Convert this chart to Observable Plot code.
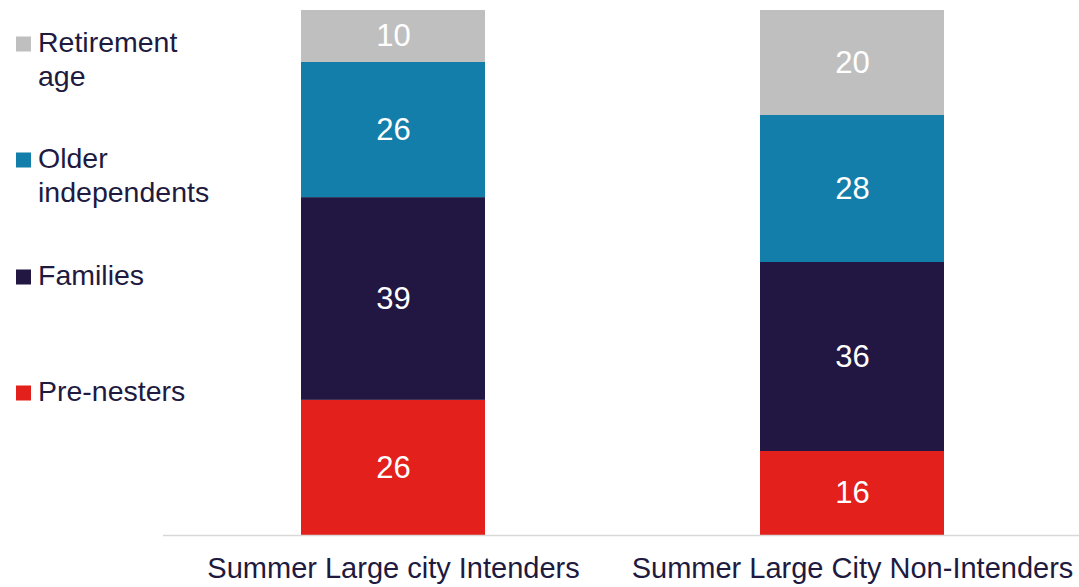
<!DOCTYPE html>
<html>
<head>
<meta charset="utf-8">
<script src="https://cdn.jsdelivr.net/npm/d3@7"></script>
<script src="https://cdn.jsdelivr.net/npm/@observablehq/plot@0.6"></script>
<style>
  html, body { margin: 0; padding: 0; background: #fff; }
  #chart { width: 1079px; height: 587px; overflow: hidden; }
</style>
</head>
<body>
<div id="chart"></div>
<script>
// ---- Data ----
const categories = ["Summer Large city Intenders", "Summer Large City Non-Intenders"];
const segments = ["Pre-nesters", "Families", "Older independents", "Retirement age"];
const preNesters = [26, 16];
const families = [39, 36];
const olderIndependents = [26, 28];
const retirementAge = [10, 20];
const segmentColors = ["#e3201b", "#211742", "#137eaa", "#bfbfbf"];
const legendLines = [["Pre-nesters"], ["Families"], ["Older", "independents"], ["Retirement", "age"]];

const seriesValues = [preNesters, families, olderIndependents, retirementAge];
const rows = [];
segments.forEach((s, i) => {
  categories.forEach((c, j) => rows.push({category: c, segment: s, value: seriesValues[i][j]}));
});

const textColor = "#201a40";
const font = "'Liberation Sans', Arial, sans-serif";

const chart = Plot.plot({
  width: 1079,
  height: 587,
  marginTop: 10,
  marginBottom: 52,
  marginLeft: 163,
  marginRight: -3,
  style: {fontFamily: font, color: textColor, background: "#fff", overflow: "hidden"},
  x: {domain: categories, paddingInner: 0.6, paddingOuter: 0.3, axis: null},
  y: {axis: null},
  color: {domain: segments, range: segmentColors},
  marks: [
    Plot.barY(rows, Plot.stackY({
      x: "category", y: "value", fill: "segment", z: "segment",
      order: segments, offset: "normalize"
    })),
    Plot.text(rows, Plot.stackY({
      x: "category", y: "value", z: "segment", text: d => String(d.value),
      order: segments, offset: "normalize",
      fill: "#ffffff", fontSize: 31
    })),
    Plot.ruleY([0], {stroke: "#d9d9d9", strokeWidth: 1.5}),
    Plot.axisX({tickSize: 0, tickPadding: 22, fontSize: 29, label: null, fill: textColor})
  ]
});

// Legend drawn inside the SVG (left side)
const svg = d3.select(chart);
const baselines = [401, 285, 168, 52];
const lg = svg.append("g")
  .attr("font-family", font)
  .attr("font-size", 28.5)
  .attr("text-anchor", "start")
  .attr("fill", textColor);
segments.forEach((s, i) => {
  const b = baselines[i];
  lg.append("rect").attr("x", 16).attr("y", b - 15.5).attr("width", 15).attr("height", 15)
    .attr("fill", segmentColors[i]);
  const t = lg.append("text").attr("x", 38).attr("y", b).attr("text-anchor", "start");
  legendLines[i].forEach((line, k) => {
    t.append("tspan").attr("x", 38).attr("y", b + k * 34).text(line);
  });
});

document.getElementById("chart").appendChild(chart);
</script>
</body>
</html>
